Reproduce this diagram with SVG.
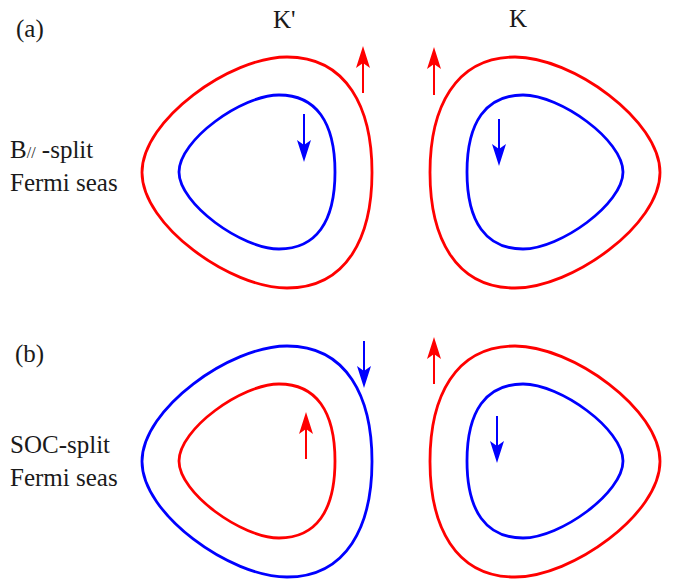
<svg xmlns="http://www.w3.org/2000/svg" width="680" height="585" viewBox="0 0 680 585">
<style>
  .lbl { font-family: "Liberation Serif", "Times New Roman", serif; font-size: 25px; fill: #1a1a1a; }
  .fs { fill: none; stroke-width: 2.8; }
  .red { stroke: #ff0000; }
  .blue { stroke: #0000ff; }
  .shaft { stroke-width: 2; fill: none; }
  .hr { fill: #ff0000; stroke: none; }
  .hb { fill: #0000ff; stroke: none; }
</style>
<defs>
  <path id="outer" d="M 430,172.5 C 430,108 455,57 515,57 C 572,57 660,120 660,172.5 C 660,225 572,288 515,288 C 455,288 430,237 430,172.5 Z"/>
  <path id="inner" d="M 467,172 C 467,122 486,95 523,95 C 560,95 623,140 623,172 C 623,204 560,249 523,249 C 486,249 467,222 467,172 Z"/>
</defs>
<rect width="680" height="585" fill="#ffffff"/>

<g id="labels">
  <text class="lbl" x="16" y="37">(a)</text>
  <text class="lbl" x="273" y="28">K'</text>
  <text class="lbl" x="509" y="27">K</text>
  <text class="lbl" x="10" y="158">B<tspan font-size="16">//</tspan> -split</text>
  <text class="lbl" x="10" y="191">Fermi seas</text>
  <text class="lbl" x="15" y="362">(b)</text>
  <text class="lbl" x="10" y="453">SOC-split</text>
  <text class="lbl" x="10" y="486">Fermi seas</text>
</g>

<g id="panel-a">
  <g id="a-Kprime-outer"><use href="#outer" class="fs red" transform="matrix(-1 0 0 1 802 0)"/></g>
  <g id="a-Kprime-inner"><use href="#inner" class="fs blue" transform="matrix(-1 0 0 1 802 0)"/></g>
  <g id="a-K-outer"><use href="#outer" class="fs red"/></g>
  <g id="a-K-inner"><use href="#inner" class="fs blue"/></g>
</g>

<g id="panel-b" transform="translate(0,289)">
  <g id="b-Kprime-outer"><use href="#outer" class="fs blue" transform="matrix(-1 0 0 1 802 0)"/></g>
  <g id="b-Kprime-inner"><use href="#inner" class="fs red" transform="matrix(-1 0 0 1 802 0)"/></g>
  <g id="b-K-outer"><use href="#outer" class="fs red"/></g>
  <g id="b-K-inner"><use href="#inner" class="fs blue"/></g>
</g>

<g id="spin-arrows">
  <!-- (a) red up -->
  <line class="shaft red" x1="363" y1="93" x2="363" y2="63"/>
  <path class="hr" d="M363,46 L356,68 L363,63 L370,68 Z"/>
  <line class="shaft red" x1="434" y1="95" x2="434" y2="64"/>
  <path class="hr" d="M434,47 L427,69 L434,64 L441,69 Z"/>
  <!-- (a) blue down -->
  <line class="shaft blue" x1="304" y1="114" x2="304" y2="145"/>
  <path class="hb" d="M304,162 L297,140 L304,145 L311,140 Z"/>
  <line class="shaft blue" x1="499" y1="119" x2="499" y2="149"/>
  <path class="hb" d="M499,166 L492,144 L499,149 L506,144 Z"/>
  <!-- (b) -->
  <line class="shaft blue" x1="364" y1="341" x2="364" y2="371"/>
  <path class="hb" d="M364,388 L357,366 L364,371 L371,366 Z"/>
  <line class="shaft red" x1="434" y1="384" x2="434" y2="354"/>
  <path class="hr" d="M434,337 L427,359 L434,354 L441,359 Z"/>
  <line class="shaft blue" x1="497" y1="416" x2="497" y2="446"/>
  <path class="hb" d="M497,463 L490,441 L497,446 L504,441 Z"/>
  <line class="shaft red" x1="306" y1="459" x2="306" y2="429"/>
  <path class="hr" d="M306,412 L299,434 L306,429 L313,434 Z"/>
</g>
</svg>
